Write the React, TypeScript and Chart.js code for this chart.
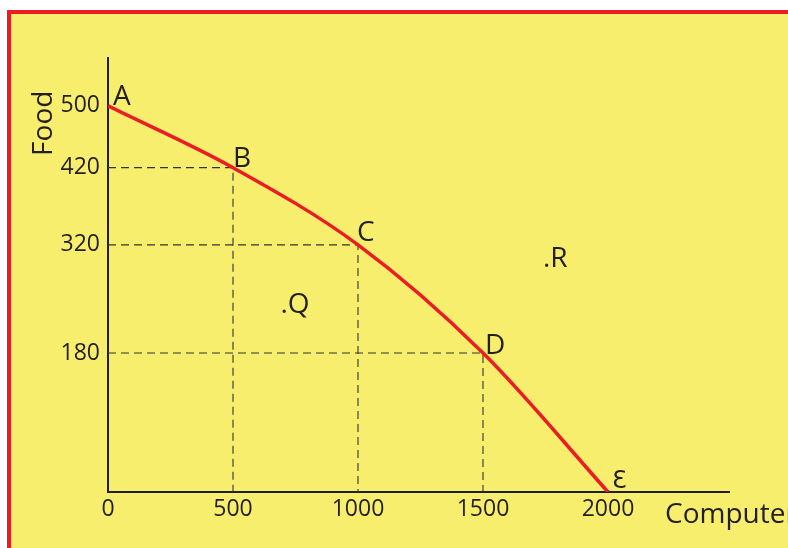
import React, { useEffect, useRef } from "react";
import { Chart, registerables } from "chart.js";

Chart.register(...registerables);

// ---- data ----
const computers = [0, 500, 1000, 1500, 2000];
const food = [500, 420, 320, 180, 0];
const pointNames = ["A", "B", "C", "D", "Ɛ"];
const xTicks = [0, 500, 1000, 1500, 2000];
const yTicks = [180, 320, 420, 500];
const guidePoints = [1, 2, 3]; // B, C, D have dashed guide lines
const freeLabels = [".Q", ".R"];
const freeX = [690, 1740];
const freeY = [232, 292];
const xTitle = "Computer";
const yTitle = "Food";

const RED = "#EC1C24";
const INK = "#231F20";
const YELLOW = "#F7EE6E";
const FONT = "'Open Sans', 'DejaVu Sans', sans-serif";

// per-label nudges (pixels) relative to the point, and label font sizes
const labelDx = [5, 0, -1, 2, 4];
const labelDy = [-1, -1, -4, 1, -4];
const labelSize = [28, 28, 28, 28, 24];

const annotate = {
  id: "annotate",
  afterDatasetsDraw(chart: any) {
    const { ctx, chartArea, scales } = chart;
    const xs = scales.x;
    const ys = scales.y;
    ctx.save();
    ctx.fillStyle = INK;
    ctx.textAlign = "left";
    ctx.textBaseline = "alphabetic";
    pointNames.forEach((name, i) => {
      const px = xs.getPixelForValue(computers[i]);
      const py = ys.getPixelForValue(food[i]);
      ctx.font = `${labelSize[i]}px ${FONT}`;
      ctx.fillText(name, px + labelDx[i], py + labelDy[i]);
    });
    ctx.font = `28px ${FONT}`;
    freeLabels.forEach((t, i) => {
      ctx.fillText(t, xs.getPixelForValue(freeX[i]), ys.getPixelForValue(freeY[i]));
    });
    // axis titles
    ctx.fillText(xTitle, chartArea.right - 64, chartArea.bottom + 31);
    ctx.translate(chartArea.left - 56, ys.getPixelForValue(500) + 50);
    ctx.rotate(-Math.PI / 2);
    ctx.fillText(yTitle, 0, 0);
    ctx.restore();
  },
};

export default function App() {
  const ref = useRef<HTMLCanvasElement | null>(null);

  useEffect(() => {
    if (!ref.current) return;
    const curve = {
      data: computers.map((x, i) => ({ x, y: food[i] })),
      borderColor: RED,
      borderWidth: 3.5,
      pointRadius: 0,
      cubicInterpolationMode: "monotone" as const,
      fill: false,
    };
    const guides = guidePoints.map((i) => ({
      data: [
        { x: 0, y: food[i] },
        { x: computers[i], y: food[i] },
        { x: computers[i], y: 0 },
      ],
      borderColor: "#333333",
      borderWidth: 1.1,
      borderDash: [8, 5],
      pointRadius: 0,
      tension: 0,
      fill: false,
    }));

    const tickFont = { family: FONT, size: 23 };
    const chart = new Chart(ref.current, {
      type: "line",
      data: { datasets: [curve, ...guides] as any },
      plugins: [annotate],
      options: {
        animation: false,
        responsive: false,
        maintainAspectRatio: false,
        layout: { padding: { top: 58, right: 59, left: 0, bottom: 0 } },
        plugins: { legend: { display: false }, tooltip: { enabled: false } },
        scales: {
          x: {
            type: "linear",
            min: 0,
            max: 2484,
            grid: { display: false, drawTicks: false },
            border: { display: true, color: INK, width: 2 },
            afterBuildTicks: (s: any) => {
              s.ticks = xTicks.map((v) => ({ value: v }));
            },
            afterFit: (s: any) => {
              s.height = 56;
            },
            ticks: {
              font: tickFont,
              color: INK,
              padding: 4,
              maxRotation: 0,
              autoSkip: false,
              callback: (v: any) => String(v),
            },
          },
          y: {
            type: "linear",
            min: 0,
            max: 562,
            grid: { display: false, drawTicks: false },
            border: { display: true, color: INK, width: 2 },
            afterBuildTicks: (s: any) => {
              s.ticks = yTicks.map((v) => ({ value: v }));
            },
            afterFit: (s: any) => {
              s.width = 108;
            },
            ticks: {
              font: tickFont,
              color: INK,
              padding: 8,
              autoSkip: false,
              callback: (v: any) => String(v),
            },
          },
        },
      } as any,
    });
    return () => chart.destroy();
  }, []);

  return (
    <div
      style={{
        position: "fixed",
        left: 0,
        top: 0,
        width: 788,
        height: 548,
        overflow: "hidden",
        background: "#ffffff",
      }}
    >
      <div
        style={{
          position: "absolute",
          left: 7,
          top: 10,
          width: 900,
          height: 700,
          background: YELLOW,
          borderTop: `4px solid ${RED}`,
          borderLeft: `4px solid ${RED}`,
        }}
      />
      <canvas
        ref={ref}
        width={788}
        height={548}
        style={{ position: "absolute", left: 0, top: 0, display: "block" }}
      />
    </div>
  );
}
